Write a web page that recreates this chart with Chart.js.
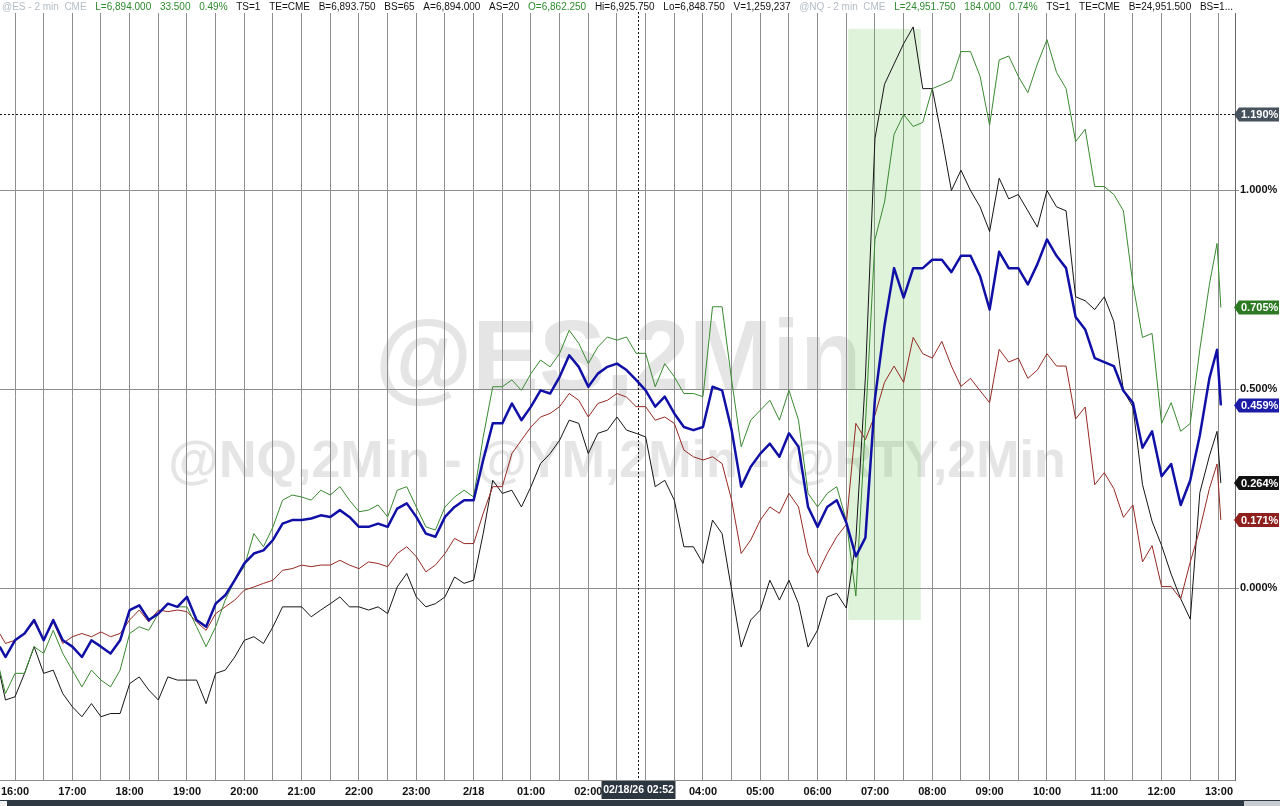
<!DOCTYPE html>
<html>
<head>
<meta charset="utf-8">
<script src="https://cdn.jsdelivr.net/npm/chart.js@4.4.1/dist/chart.umd.min.js"></script>
<style>
  html, body { margin: 0; padding: 0; background: #fff; }
  #wrap { width: 1280px; height: 806px; }
</style>
</head>
<body>
<div id="wrap"><canvas id="chart" width="1280" height="806"></canvas></div>
<script>
// minutes after 16:00 (2/17), 10-minute samples plus the first and last bars
var times = [-16];
for (var t = -10; t <= 1250; t += 10) times.push(t);
times.push(1258, 1262);

// % change
var es = [-0.147, -0.173,
  -0.131, -0.114, -0.08, -0.131, -0.08, -0.131, -0.147, -0.173, -0.131, -0.147,
  -0.164, -0.131, -0.055, -0.043, -0.08, -0.064, -0.039, -0.047, -0.022, -0.08,
  -0.097, -0.039, -0.018, 0.02, 0.062, 0.087, 0.095, 0.121, 0.162, 0.171,
  0.171, 0.175, 0.183, 0.179, 0.196, 0.179, 0.154, 0.154, 0.162, 0.154,
  0.2, 0.213, 0.179, 0.137, 0.129, 0.179, 0.204, 0.221, 0.221,
  0.322, 0.414, 0.414, 0.464, 0.422, 0.456, 0.497, 0.489, 0.531, 0.585, 0.556,
  0.506, 0.539, 0.556, 0.564, 0.548, 0.523, 0.497, 0.456, 0.481, 0.439,
  0.405, 0.397, 0.405, 0.506, 0.497, 0.397, 0.255, 0.305, 0.338, 0.363,
  0.33, 0.389, 0.355, 0.204, 0.154, 0.204, 0.221, 0.165, 0.08, 0.127,
  0.476, 0.66, 0.804, 0.73, 0.804, 0.804, 0.825, 0.825, 0.794, 0.835,
  0.835, 0.784, 0.70, 0.845, 0.804, 0.804, 0.763, 0.814, 0.876, 0.835,
  0.804, 0.681, 0.65, 0.578, 0.568, 0.558, 0.496, 0.466, 0.353, 0.394,
  0.281, 0.312, 0.209, 0.271, 0.384, 0.527,
  0.599, 0.459];

var nq = [-0.206, -0.265,
  -0.214, -0.214, -0.147, -0.164, -0.106, -0.164, -0.206, -0.248, -0.206, -0.231,
  -0.248, -0.206, -0.114, -0.097, -0.106, -0.064, -0.039, -0.047, -0.047, -0.097,
  -0.147, -0.097, -0.03, 0.02, 0.054, 0.137, 0.104, 0.154, 0.221, 0.234,
  0.229, 0.221, 0.246, 0.234, 0.255, 0.221, 0.192, 0.196, 0.209, 0.179,
  0.246, 0.255, 0.204, 0.154, 0.146, 0.204, 0.229, 0.246, 0.229,
  0.38, 0.506, 0.506, 0.523, 0.497, 0.539, 0.573, 0.556, 0.59, 0.648, 0.615,
  0.564, 0.606, 0.631, 0.623, 0.631, 0.59, 0.59, 0.506, 0.564, 0.531,
  0.489, 0.489, 0.481, 0.707, 0.707, 0.523, 0.355, 0.422, 0.447, 0.472,
  0.422, 0.497, 0.422, 0.238, 0.204, 0.238, 0.255, 0.17, -0.02, 0.41,
  0.876, 0.97, 1.14, 1.19, 1.16, 1.17, 1.255, 1.265, 1.276, 1.348,
  1.348, 1.286, 1.163, 1.327, 1.337, 1.286, 1.245, 1.317, 1.378, 1.296,
  1.255, 1.122, 1.153, 1.009, 1.009, 0.989, 0.948, 0.763, 0.63, 0.64,
  0.414, 0.466, 0.394, 0.414, 0.60, 0.763,
  0.866, 0.705];

var ym = [-0.214, -0.281,
  -0.273, -0.214, -0.147, -0.214, -0.206, -0.265, -0.298, -0.323, -0.29, -0.323,
  -0.315, -0.315, -0.24, -0.223, -0.256, -0.281, -0.223, -0.231, -0.231, -0.231,
  -0.29, -0.214, -0.206, -0.173, -0.131, -0.122, -0.139, -0.097, -0.047, -0.047,
  -0.047, -0.072, -0.055, -0.039, -0.022, -0.047, -0.047, -0.055, -0.047, -0.064,
  0.003, 0.037, -0.022, -0.047, -0.039, -0.022, 0.028, 0.012, 0.02,
  0.137, 0.271, 0.238, 0.246, 0.204, 0.255, 0.313, 0.338, 0.372, 0.422, 0.414,
  0.338, 0.389, 0.397, 0.43, 0.397, 0.389, 0.38, 0.255, 0.271, 0.221,
  0.104, 0.104, 0.062, 0.171, 0.137, -0.005, -0.148, -0.08, -0.055, 0.02,
  -0.03, 0.02, -0.039, -0.148, -0.105, -0.022, -0.013, -0.05, 0.12, 0.53,
  1.13, 1.266, 1.317, 1.368, 1.41, 1.255, 1.255, 1.132, 0.999, 1.05,
  0.999, 0.958, 0.896, 1.03, 0.978, 0.989, 0.948, 0.907, 0.999, 0.958,
  0.948, 0.732, 0.722, 0.70, 0.732, 0.67, 0.496, 0.455, 0.26, 0.168,
  0.107, 0.035, -0.027, -0.078, 0.24, 0.332,
  0.394, 0.264];

var rty = [-0.114, -0.139,
  -0.131, -0.114, -0.085, -0.131, -0.085, -0.139, -0.122, -0.114, -0.122, -0.11,
  -0.122, -0.114, -0.08, -0.055, -0.085, -0.055, -0.059, -0.055, -0.059, -0.085,
  -0.106, -0.064, -0.047, -0.03, -0.005, 0.003, 0.012, 0.02, 0.045, 0.049,
  0.058, 0.054, 0.058, 0.058, 0.07, 0.058, 0.049, 0.066, 0.062, 0.054,
  0.087, 0.104, 0.079, 0.041, 0.058, 0.087, 0.125, 0.112, 0.112,
  0.188, 0.255, 0.255, 0.338, 0.372, 0.405, 0.43, 0.439, 0.456, 0.489, 0.472,
  0.43, 0.464, 0.472, 0.489, 0.48, 0.456, 0.456, 0.422, 0.43, 0.414,
  0.347, 0.33, 0.322, 0.33, 0.313, 0.221, 0.087, 0.121, 0.171, 0.204,
  0.188, 0.238, 0.204, 0.087, 0.037, 0.087, 0.129, 0.16, 0.414, 0.373,
  0.435, 0.517, 0.558, 0.517, 0.63, 0.589, 0.578, 0.62, 0.558, 0.507,
  0.527, 0.496, 0.466, 0.60, 0.568, 0.578, 0.527, 0.548, 0.589, 0.558,
  0.558, 0.425, 0.455, 0.26, 0.29, 0.25, 0.178, 0.209, 0.066, 0.107,
  0.004, 0.004, -0.027, 0.066, 0.148, 0.25,
  0.312, 0.171];

var yTicks = [0, 0.5, 1.0];
var crossTime = 652;      // crosshair at 02:52 on 2/18
var crossValue = 1.19;
var crossLabel = '02/18/26 02:52';
var dateLabel = '2/18';
var shadeFrom = 872, shadeTo = 948, shadeTop = 1.405, shadeBottom = -0.08;
var watermarks = ['@ES,2Min', '@NQ,2Min - @YM,2Min - @RTY,2Min'];

var GRAY = '#b3bcc5', GREEN = '#2e8b2e', INK = '#111';
var header = [
  ['@ES - 2 min  CME', GRAY],
  ['L=6,894.000', GREEN], ['33.500', GREEN], ['0.49%', GREEN],
  ['TS=1', INK], ['TE=CME', INK], ['B=6,893.750', INK],
  ['BS=65', INK], ['A=6,894.000', INK], ['AS=20', INK],
  ['O=6,862.250', GREEN], ['Hi=6,925.750', INK], ['Lo=6,848.750', INK],
  ['V=1,259,237', INK], ['@NQ - 2 min  CME', GRAY],
  ['L=24,951.750', GREEN], ['184.000', GREEN], ['0.74%', GREEN],
  ['TS=1', INK], ['TE=CME', INK], ['B=24,951.500', INK],
  ['BS=1...', INK]
];

var FONT = 'Arial, "Liberation Sans", sans-serif';

function pts(arr) {
  return arr.map(function (v, i) { return { x: times[i], y: v }; });
}

function tag(ctx, y, text, bg) {
  var x0 = 1234, x1 = 1239, x2 = 1279, h = 7;
  ctx.fillStyle = bg;
  ctx.beginPath();
  ctx.moveTo(x0, y);
  ctx.lineTo(x1, y - h);
  ctx.lineTo(x2, y - h);
  ctx.lineTo(x2, y + h);
  ctx.lineTo(x1, y + h);
  ctx.closePath();
  ctx.fill();
  ctx.fillStyle = '#fff';
  ctx.font = 'bold 11px ' + FONT;
  ctx.textAlign = 'left';
  ctx.textBaseline = 'middle';
  ctx.fillText(text, 1241, y + 0.5);
}

var decor = {
  id: 'decor',
  beforeDraw: function (chart) {
    var ctx = chart.ctx;
    ctx.save();
    ctx.fillStyle = '#fff';
    ctx.fillRect(0, 0, chart.width, chart.height);
    ctx.fillStyle = '#e5e5e5';
    ctx.textAlign = 'center';
    ctx.textBaseline = 'middle';
    ctx.font = 'bold 100px ' + FONT;
    ctx.fillText(watermarks[0], 618, 362);
    ctx.font = 'bold 52px ' + FONT;
    ctx.fillText(watermarks[1], 617, 463);
    ctx.restore();
  },
  beforeDatasetsDraw: function (chart) {
    var ctx = chart.ctx, xs = chart.scales.x, ys = chart.scales.y, a = chart.chartArea;
    ctx.save();
    var l = xs.getPixelForValue(shadeFrom), r = xs.getPixelForValue(shadeTo);
    var tp = ys.getPixelForValue(shadeTop), bt = ys.getPixelForValue(shadeBottom);
    ctx.fillStyle = 'rgba(110, 200, 90, 0.22)';
    ctx.fillRect(l, tp, r - l, bt - tp);
    ctx.strokeStyle = '#111';
    ctx.lineWidth = 1;
    ctx.setLineDash([2, 2]);
    var cx = Math.round(xs.getPixelForValue(crossTime)) + 0.5;
    ctx.beginPath(); ctx.moveTo(cx, 0); ctx.lineTo(cx, a.bottom); ctx.stroke();
    var cy = Math.round(ys.getPixelForValue(crossValue)) + 0.5;
    ctx.beginPath(); ctx.moveTo(a.left, cy); ctx.lineTo(a.right, cy); ctx.stroke();
    ctx.restore();
  },
  afterDraw: function (chart) {
    var ctx = chart.ctx, xs = chart.scales.x, ys = chart.scales.y, a = chart.chartArea;
    ctx.save();
    // header line, spread evenly from the left edge to the axis line
    ctx.fillStyle = '#fff';
    ctx.fillRect(0, 0, a.right, 12);
    ctx.textAlign = 'left';
    ctx.textBaseline = 'alphabetic';
    ctx.font = '10px ' + FONT;
    var total = 0;
    header.forEach(function (h) { total += ctx.measureText(h[0]).width; });
    var gap = (a.right - 4 - total) / (header.length - 1);
    var hx = 2;
    header.forEach(function (h) {
      ctx.fillStyle = h[1];
      ctx.fillText(h[0], hx, 10);
      hx += ctx.measureText(h[0]).width + gap;
    });

    // last value tags
    tag(ctx, ys.getPixelForValue(crossValue), crossValue.toFixed(3) + '%', '#45515c');
    chart.data.datasets.forEach(function (ds) {
      var last = ds.data[ds.data.length - 1].y;
      tag(ctx, ys.getPixelForValue(last), last.toFixed(3) + '%', ds.tagColor);
    });

    // crosshair time box
    var cx = Math.round(xs.getPixelForValue(crossTime)) + 0.5;
    ctx.font = 'bold 10.5px ' + FONT;
    var w = Math.round(ctx.measureText(crossLabel).width) + 3;
    ctx.fillStyle = '#2c3640';
    ctx.fillRect(cx - w / 2, a.bottom + 1, w, 18);
    ctx.fillStyle = '#fff';
    ctx.textAlign = 'center';
    ctx.textBaseline = 'middle';
    ctx.fillText(crossLabel, cx, a.bottom + 10);

    // scroll bar strip
    ctx.fillStyle = '#2f3944';
    ctx.fillRect(0, 800, 1280, 6);
    ctx.fillStyle = '#f2f2f2';
    ctx.fillRect(0, 801, 7, 5);
    ctx.fillStyle = '#c8ccd0';
    ctx.fillRect(1244, 801, 36, 5);
    ctx.restore();
  }
};

new Chart(document.getElementById('chart'), {
  type: 'line',
  data: {
    datasets: [
      { label: '@ES', data: pts(es), borderColor: '#1010a6', borderWidth: 2.5, order: 0, tagColor: '#1c1ca6' },
      { label: '@NQ', data: pts(nq), borderColor: '#3a8a30', borderWidth: 1, order: 1, tagColor: '#2c7a22' },
      { label: '@RTY', data: pts(rty), borderColor: '#952a22', borderWidth: 1, order: 2, tagColor: '#8e1f1c' },
      { label: '@YM', data: pts(ym), borderColor: '#151515', borderWidth: 1, order: 3, tagColor: '#121212' }
    ]
  },
  options: {
    responsive: false,
    animation: false,
    devicePixelRatio: 1,
    layout: { padding: { top: 13, left: 0, right: 0, bottom: 0 } },
    elements: { point: { radius: 0 }, line: { tension: 0, borderJoinStyle: 'round' } },
    plugins: { legend: { display: false }, tooltip: { enabled: false } },
    scales: {
      x: {
        type: 'linear',
        min: -15.7,
        max: 1276.8,
        afterFit: function (s) { s.height = 26; s.paddingLeft = 0; s.paddingRight = 0; },
        afterBuildTicks: function (s) {
          var tk = [];
          for (var v = 0; v <= 1260; v += 30) tk.push({ value: v });
          s.ticks = tk;
        },
        grid: { color: '#8e8e8e', lineWidth: 1, drawTicks: false },
        border: { display: true, color: '#8e8e8e' },
        ticks: {
          autoSkip: false,
          maxRotation: 0,
          padding: 5,
          color: '#111',
          font: { family: FONT, size: 11, weight: 'bold' },
          callback: function (v) {
            if (v % 60 !== 0) return '';
            var h = (16 + v / 60) % 24;
            if (h === 0) return dateLabel;
            return (h < 10 ? '0' : '') + h + ':00';
          }
        }
      },
      y: {
        type: 'linear',
        position: 'right',
        min: -0.482,
        max: 1.445,
        afterFit: function (s) { s.width = 45; s.paddingTop = 0; s.paddingBottom = 0; },
        afterBuildTicks: function (s) { s.ticks = yTicks.map(function (v) { return { value: v }; }); },
        grid: { color: '#8e8e8e', lineWidth: 1, drawTicks: true, tickLength: 4 },
        border: { display: true, color: '#6a6a6a' },
        ticks: {
          padding: 1,
          color: '#111',
          font: { family: FONT, size: 11, weight: 'bold' },
          callback: function (v) { return v.toFixed(3) + '%'; }
        }
      }
    }
  },
  plugins: [decor]
});
</script>
</body>
</html>
